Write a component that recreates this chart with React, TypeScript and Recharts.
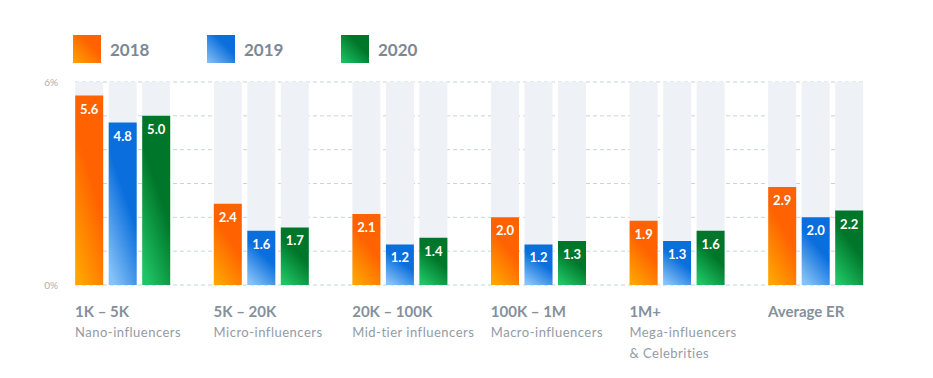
import React from 'react';
import { BarChart, Bar, XAxis, YAxis, CartesianGrid, Legend, LabelList } from 'recharts';

const categories = ['1K – 5K', '5K – 20K', '20K – 100K', '100K – 1M', '1M+', 'Average ER'];
const subtitles = [
  ['Nano-influencers'],
  ['Micro-influencers'],
  ['Mid-tier influencers'],
  ['Macro-influencers'],
  ['Mega-influencers', '& Celebrities'],
  [],
];
const values2018 = [5.6, 2.4, 2.1, 2.0, 1.9, 2.9];
const values2019 = [4.8, 1.6, 1.2, 1.2, 1.3, 2.0];
const values2020 = [5.0, 1.7, 1.4, 1.3, 1.6, 2.2];
const yTicks = [0, 1, 2, 3, 4, 5, 6];
const yTickLabels = ['0%', '', '', '', '', '', '6%'];

const SERIES = [
  { key: 'y2018', name: '2018', top: '#ff6200', bottom: '#ffa400' },
  { key: 'y2019', name: '2019', top: '#0a6edc', bottom: '#86c2f7' },
  { key: 'y2020', name: '2020', top: '#00762a', bottom: '#1fc565' },
];

const FONT = 'Lato, "Open Sans", sans-serif';
const GREY = '#86909c';

const data = categories.map((name, i) => ({
  name,
  y2018: values2018[i],
  y2019: values2019[i],
  y2020: values2020[i],
}));

function CategoryTick(props: any) {
  const { x, y, index } = props;
  const left = x - 47.5;
  const lines = subtitles[index] || [];
  return (
    <g>
      <text x={left} y={y + 24} fill={GREY} fontSize={15} fontWeight={700} fontFamily={FONT}>
        {categories[index]}
      </text>
      {lines.map((l, j) => (
        <text
          key={j}
          x={left}
          y={y + 44 + j * 21}
          fill="#929ba6"
          fontSize={13}
          letterSpacing={0.5}
          fontFamily={FONT}
        >
          {l}
        </text>
      ))}
    </g>
  );
}

function ValueLabel(props: any) {
  const { x, y, width, value } = props;
  return (
    <text
      x={x + width / 2}
      y={y + 18}
      textAnchor="middle"
      fill="#ffffff"
      fontSize={13}
      fontWeight={700}
      fontFamily={FONT}
    >
      {Number(value).toFixed(1)}
    </text>
  );
}

function LegendBox() {
  return (
    <div style={{ display: 'flex', fontFamily: FONT }}>
      {SERIES.map(s => (
        <div key={s.key} style={{ width: 134, display: 'flex', alignItems: 'center' }}>
          <div
            style={{
              width: 28,
              height: 28,
              background: `linear-gradient(225deg, ${s.top} 35%, ${s.bottom})`,
            }}
          />
          <span style={{ marginLeft: 9, fontSize: 17, fontWeight: 700, color: '#7d8894' }}>{s.name}</span>
        </div>
      ))}
    </div>
  );
}

export default function App() {
  return (
    <div style={{ position: 'absolute', left: 0, top: 0, width: 933, height: 378, background: '#fff' }}>
      <BarChart
        width={933}
        height={378}
        data={data}
        margin={{ top: 82, right: 70, bottom: 0, left: 0 }}
        barCategoryGap={21.8}
        barGap={5.5}
        barSize={28}
      >
        <defs>
          {SERIES.map(s => (
            <linearGradient key={s.key} id={`grad-${s.key}`} x1="0.7" y1="0" x2="0.2" y2="1">
              <stop offset="40%" stopColor={s.top} />
              <stop offset="100%" stopColor={s.bottom} />
            </linearGradient>
          ))}
        </defs>
        <CartesianGrid vertical={false} stroke="#c9d3de" strokeDasharray="4 3" />
        <XAxis
          dataKey="name"
          axisLine={false}
          tickLine={false}
          height={93}
          padding={{ left: -21.8, right: -21.8 }}
          interval={0}
          tick={<CategoryTick />}
        />
        <YAxis
          domain={[0, 6]}
          ticks={yTicks}
          width={75}
          axisLine={false}
          tickLine={false}
          tickMargin={11}
          tickFormatter={(v: number) => yTickLabels[yTicks.indexOf(v)]}
          tick={{ fontSize: 10, fill: '#a7b0ba', fontFamily: FONT }}
        />
        <Legend
          layout="horizontal"
          verticalAlign="middle"
          align="center"
          wrapperStyle={{ top: 35, left: 73, width: 420 }}
          content={<LegendBox />}
        />
        {SERIES.map(s => (
          <Bar
            key={s.key}
            dataKey={s.key}
            name={s.name}
            fill={`url(#grad-${s.key})`}
            background={{ fill: '#eef2f6' }}
            isAnimationActive={false}
          >
            <LabelList dataKey={s.key} content={<ValueLabel />} />
          </Bar>
        ))}
      </BarChart>
    </div>
  );
}
